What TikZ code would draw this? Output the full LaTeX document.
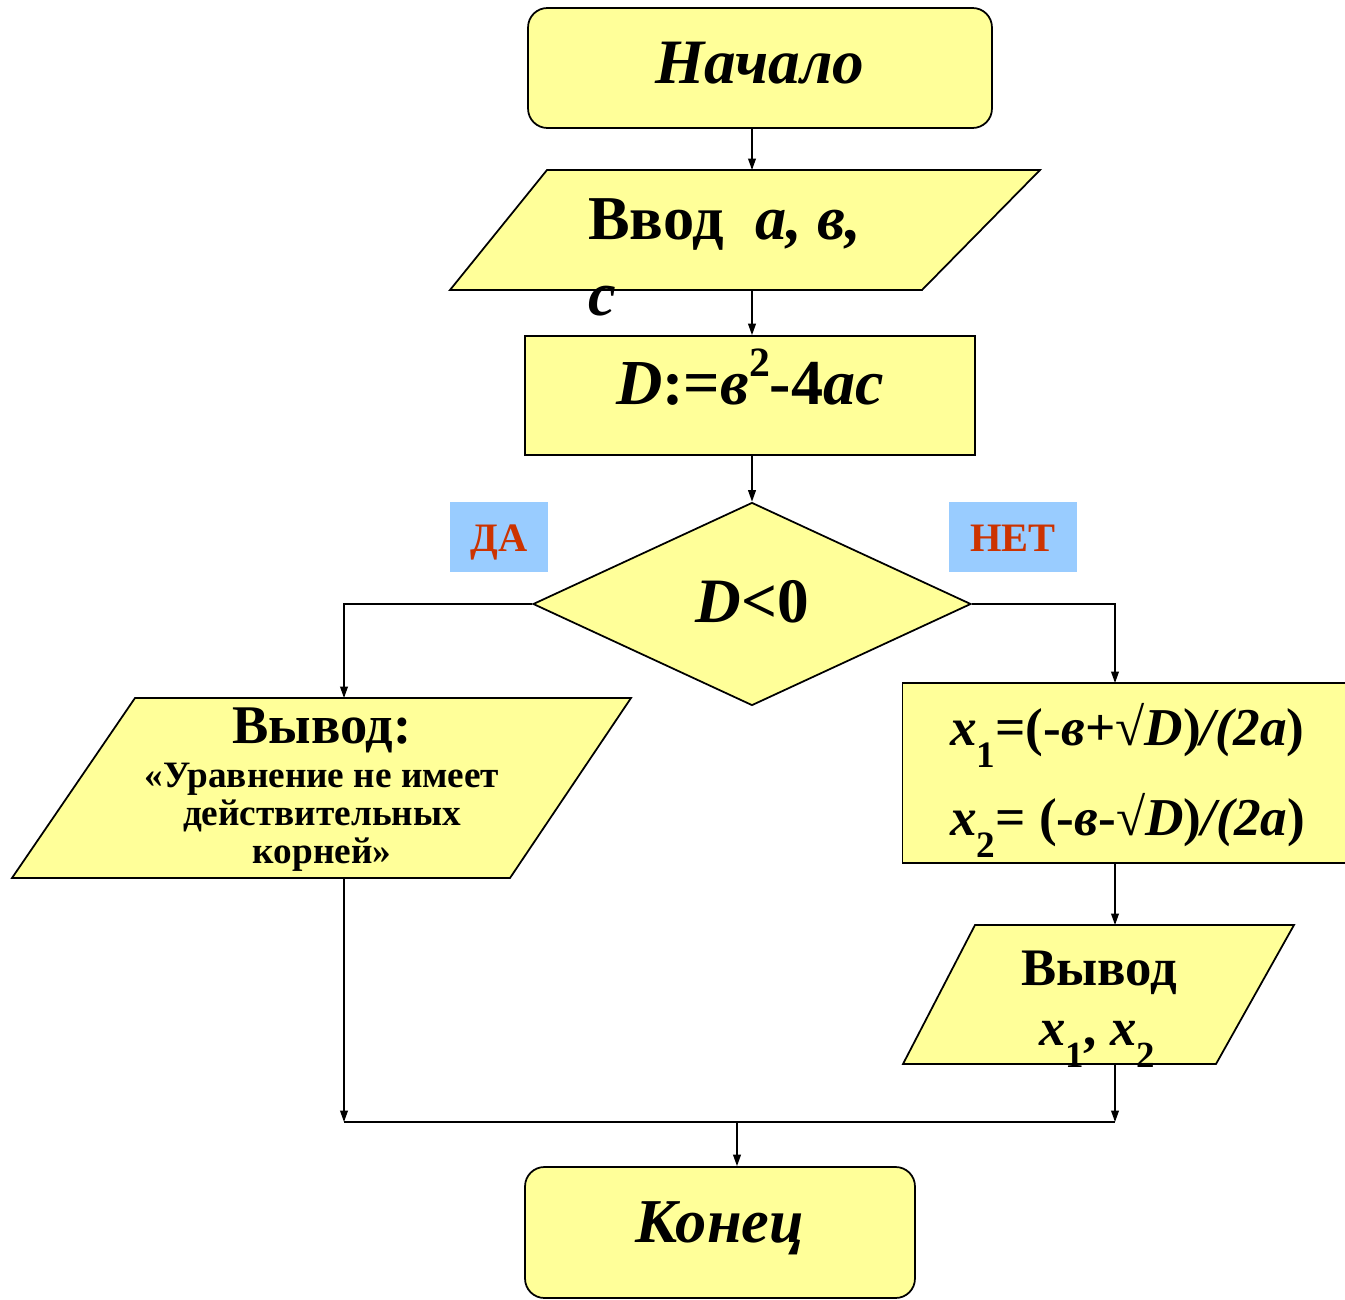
\documentclass[tikz,border=0pt]{standalone}
\usepackage{fontspec}
\usepackage{graphicx}
\setmainfont{Liberation Serif}
\usetikzlibrary{arrows.meta,shapes.geometric}
\definecolor{fillY}{HTML}{FFFF99}
\definecolor{lblue}{HTML}{99CCFF}
\definecolor{lred}{HTML}{CC3300}
\newcommand{\sbx}[1]{\raisebox{-0.42em}{\scalebox{0.7}{#1}}}
\newcommand{\fsz}[1]{\fontsize{#1}{#1}\selectfont}
\tikzset{
  box/.style={draw=black, fill=fillY, line width=1pt, inner sep=0pt},
  conn/.style={line width=0.85pt, -{Triangle[length=6.5pt,width=4.4pt]}},
  plain/.style={line width=0.85pt},
  lbl/.style={fill=lblue, text=lred, inner sep=0pt, font=\fsz{23}\bfseries, minimum height=1.4cm, text height=17pt, text depth=0pt},
  txt/.style={inner sep=0pt, anchor=base}
}
\begin{document}
\begin{tikzpicture}[x=0.02cm,y=-0.02cm]
\useasboundingbox (0,0) rectangle (1345,1300);
% shapes
\node[box, rounded corners=11pt, minimum width=9.28cm, minimum height=2.4cm] (start) at (760,68) {};
\draw[box] (547,170) -- (1040,170) -- (922,290) -- (450,290) -- cycle;
\coordinate (inT) at (752,170);
\coordinate (inB) at (752,290);
\node[box, minimum width=9cm, minimum height=2.38cm] (calc) at (750,395.5) {};
\node[box, diamond, minimum width=8.76cm, minimum height=4.06cm] (dec) at (752,604) {};
\node[lbl, minimum width=1.96cm] (yes) at (499,537) {ДА};
\node[lbl, minimum width=2.56cm] (no) at (1013,537) {НЕТ};
\draw[box] (135,698) -- (631,698) -- (510,878) -- (12,878) -- cycle;
\coordinate (outLT) at (344,698);
\coordinate (outLB) at (344,878);
\node[box, minimum width=8.94cm, minimum height=3.6cm] (res) at (1126,773) {};
\coordinate (resT) at (1115,683);
\draw[box] (975,925) -- (1294,925) -- (1216,1064) -- (903,1064) -- cycle;
\coordinate (out2T) at (1115,925);
\coordinate (out2B) at (1115,1064);
\node[box, rounded corners=11pt, minimum width=7.8cm, minimum height=2.62cm] (end) at (720,1232.5) {};
\coordinate (jL) at (344,1122);
\coordinate (jR) at (1115,1122);
\coordinate (jM) at (737,1122);
% texts
\node[txt] (startT) at (760,84) {\fsz{36}\bfseries\itshape Начало};
\node[txt, anchor=base west] (inTx) at (588,240) {\fsz{35.5}\bfseries Ввод\ \ \itshape a, в,};
\node[txt, anchor=base west] (inC) at (588,316) {\fsz{35.5}\bfseries\itshape c};
\node[txt] (calcT) at (750,405) {\fsz{36.5}\bfseries\itshape D\upshape :=\itshape в\raisebox{0.45em}{\scalebox{0.65}{\upshape 2}}\upshape -4\itshape ac};
\node[txt] (decT) at (752,622) {\fsz{36}\bfseries\itshape D\upshape <0};
\node[txt] (oL1) at (322,743) {\fsz{31}\bfseries Вывод:};
\node[txt] (oL2) at (322,787) {\fsz{21.2}\bfseries «Уравнение не имеет};
\node[txt] (oL3) at (322,825) {\fsz{21.2}\bfseries действительных};
\node[txt] (oL4) at (322,863) {\fsz{21.2}\bfseries корней»};
\node[txt, anchor=base west] (r1) at (950,745) {\fsz{30.3}\bfseries\itshape x\sbx{\upshape 1}\upshape =(-\itshape в\upshape +√\itshape D\upshape )\itshape /(2a\upshape )};
\node[txt, anchor=base west] (r2) at (950,835) {\fsz{30.3}\bfseries\itshape x\sbx{\upshape 2}\upshape = (-\itshape в\upshape -√\itshape D\upshape )\itshape /(2a\upshape )};
\node[txt] (o2a) at (1099,985) {\fsz{30}\bfseries Вывод};
\node[txt] (o2b) at (1097,1045) {\fsz{30}\bfseries\itshape x\sbx{\upshape 1}\upshape , \itshape x\sbx{\upshape 2}};
\node[txt] (endT) at (720,1242) {\fsz{35.5}\bfseries\itshape Конец};
% connectors
\draw[conn] (start.south -| inT) -- (inT);
\draw[conn] (inB) -- (inB |- calc.north);
\draw[conn] (calc.south -| dec.north) -- (dec.north);
\draw[conn] (dec.west) -| (outLT);
\draw[conn] (dec.east) -| (resT);
\draw[conn] (res.south -| resT) -- (out2T);
\draw[conn] (outLB) -- (jL);
\draw[conn] (out2B) -- (jR);
\draw[plain] (jL) -- (jR);
\draw[conn] (jM) -- (jM |- end.north);
\end{tikzpicture}
\end{document}
